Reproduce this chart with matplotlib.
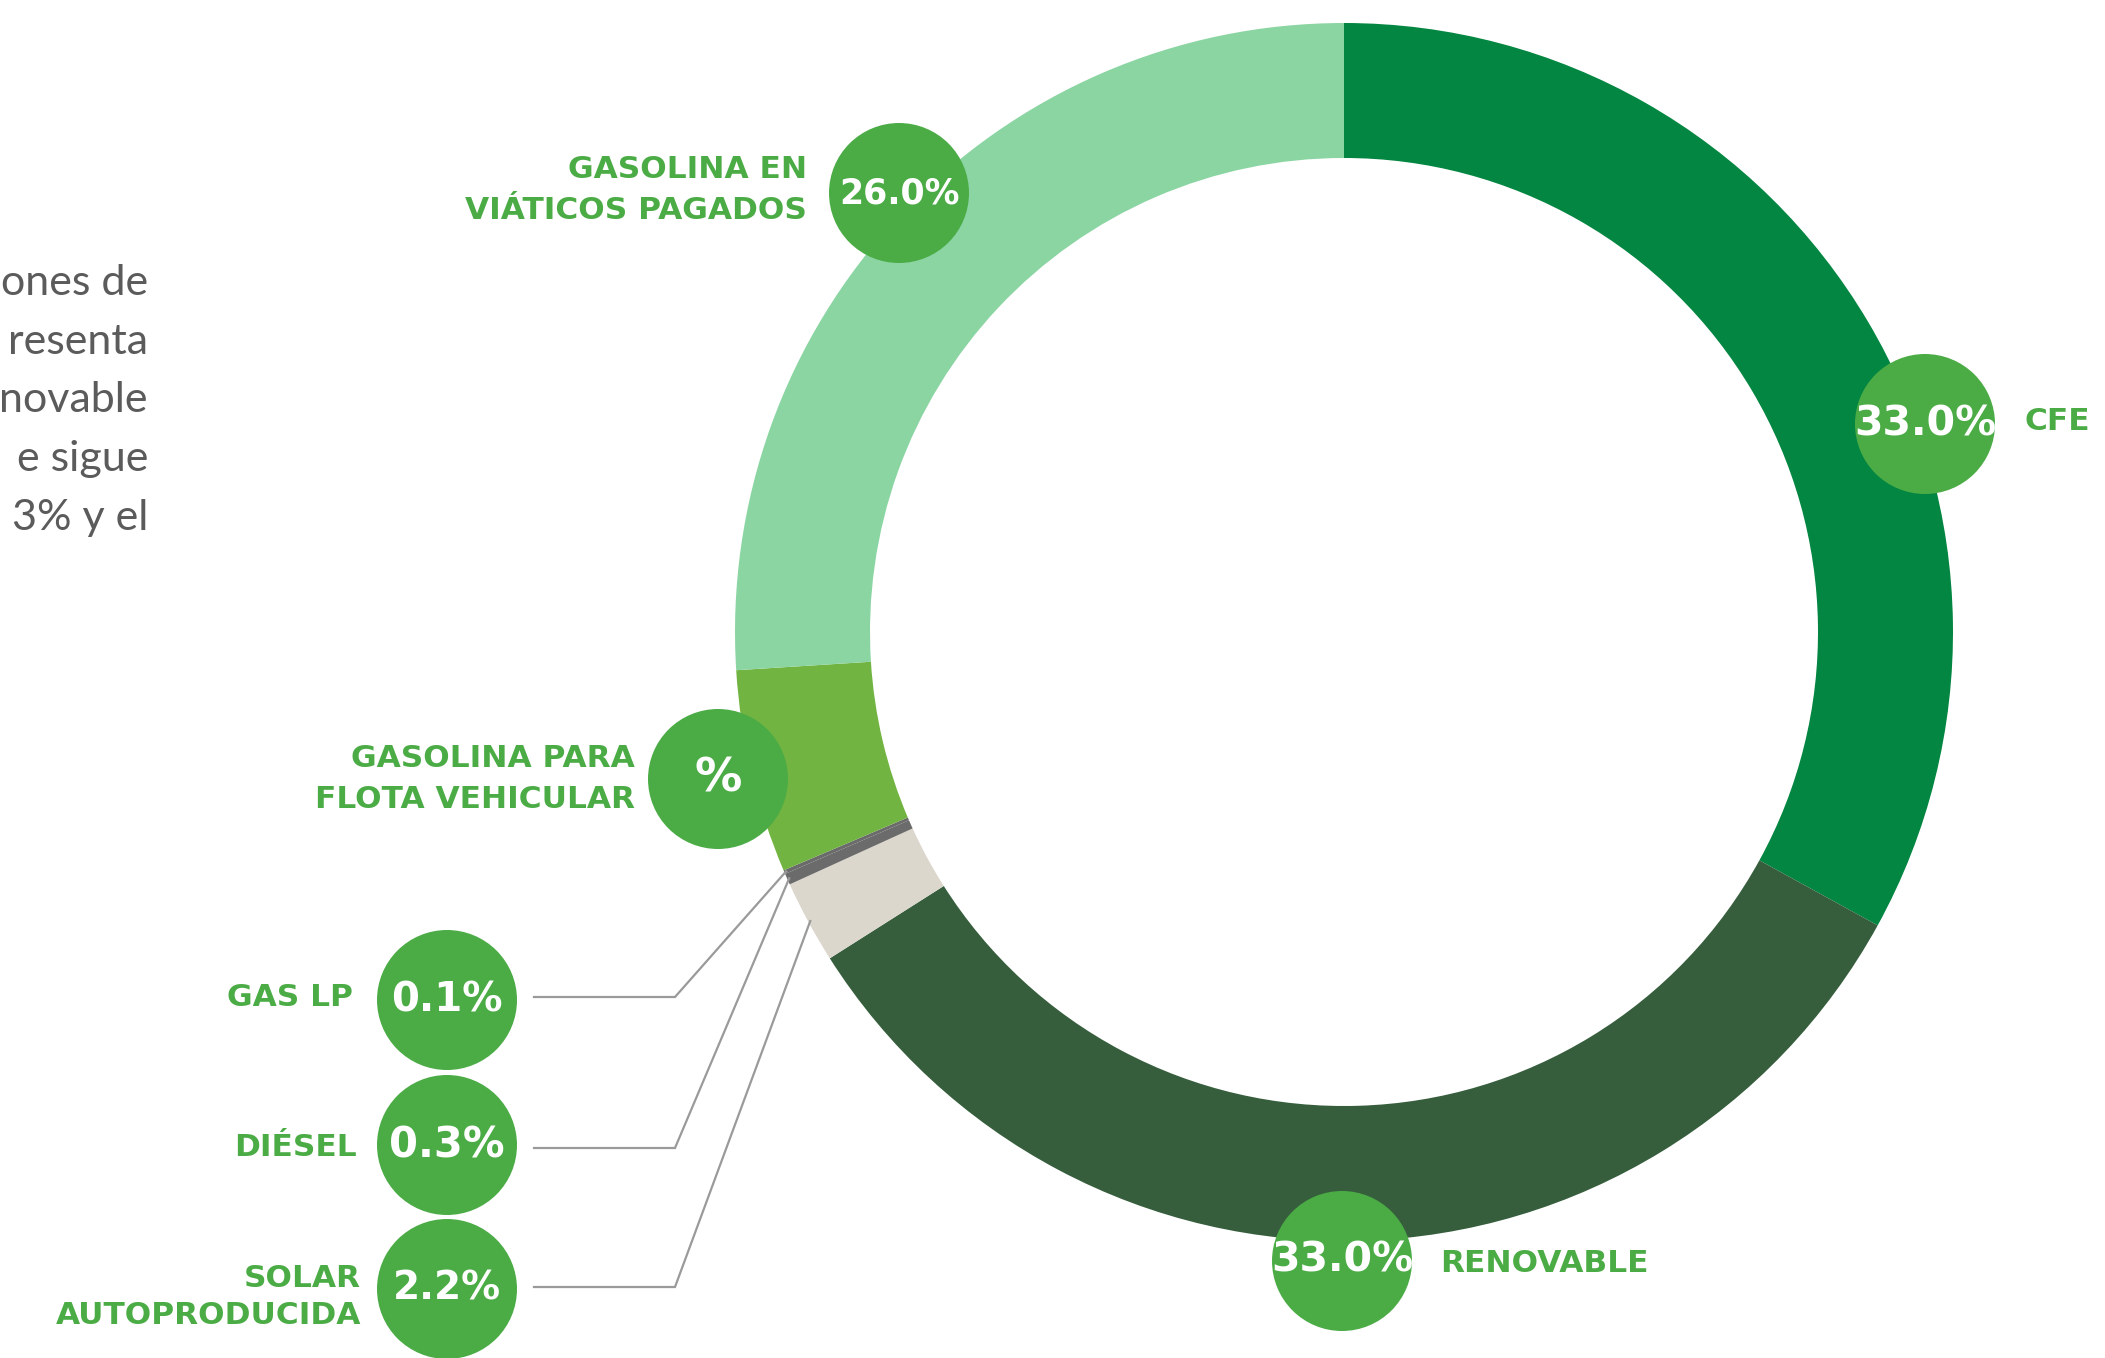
import matplotlib
matplotlib.use("Agg")
import matplotlib.pyplot as plt
import numpy as np
from matplotlib.patches import Circle

# ---------------- data ----------------
categories = ["CFE", "RENOVABLE", "SOLAR AUTOPRODUCIDA", "DIÉSEL", "GAS LP",
              "GASOLINA PARA FLOTA VEHICULAR", "GASOLINA EN VIÁTICOS PAGADOS"]
values = [33.0, 33.0, 2.2, 0.3, 0.1, 5.4, 26.0]
bubble_texts = ["33.0%", "33.0%", "2.2%", "0.3%", "0.1%", "%", "26.0%"]
colors = ["#038641", "#365E3C", "#DCD7CC", "#6B6B6B", "#6B6B6B", "#72B441", "#8BD5A3"]
paragraph_fragments = ["ones de", "resenta", "novable", "e sigue", "3% y el"]

W, H = 2105, 1358
BUBBLE = "#4BAC46"
LABEL = "#4BAC46"

fig = plt.figure(figsize=(W / 100, H / 100), dpi=100)
ax = fig.add_axes([0, 0, 1, 1])

cx, cy = 1344, 632
R_out, R_in = 609, 474

ax.pie(values, colors=colors, startangle=-90, counterclock=True,
       radius=R_out, center=(cx, cy),
       wedgeprops=dict(width=R_out - R_in, linewidth=0), frame=False)
ax.set_xlim(0, W)
ax.set_ylim(H, 0)
ax.set_aspect("equal")
ax.axis("off")

# wedge mid-angles (data coordinates, y down)
cum = np.cumsum([0] + values)
mid_deg = -90 + (cum[:-1] + np.array(values) / 2) * 3.6


def edge_point(i, r=R_out):
    a = np.deg2rad(mid_deg[i])
    return cx + r * np.cos(a), cy + r * np.sin(a)


# bubbles: (x, y, font size)
bubble_layout = {
    0: (1925, 424, 29.5),
    1: (1342, 1261, 29.5),
    2: (447, 1289, 28),
    3: (447, 1145, 30),
    4: (447, 1000, 29),
    5: (718, 779, 34),
    6: (899, 193, 25),
}
for i, (bx, by, fs) in bubble_layout.items():
    ax.add_patch(Circle((bx, by), 70, color=BUBBLE, zorder=5, linewidth=0))
    ax.text(bx, by, bubble_texts[i], color="white", fontsize=fs,
            fontweight="bold", family="DejaVu Sans", ha="center", va="center",
            zorder=6)

# category labels
lab_kw = dict(color=LABEL, fontsize=22.5, fontweight="bold", family="DejaVu Sans",
              zorder=6)
ax.text(2024, 421, "CFE", ha="left", va="center", **lab_kw)
ax.text(1440, 1263, "RENOVABLE", ha="left", va="center", **lab_kw)
ax.text(807, 190, "GASOLINA EN\nVIÁTICOS PAGADOS", ha="right", va="center",
        multialignment="right", linespacing=1.5, **lab_kw)
ax.text(635, 779, "GASOLINA PARA\nFLOTA VEHICULAR", ha="right", va="center",
        multialignment="right", linespacing=1.5, **lab_kw)
ax.text(353, 998, "GAS LP", ha="right", va="center", **lab_kw)
ax.text(357, 1147, "DIÉSEL", ha="right", va="center", **lab_kw)
ax.text(361, 1297, "SOLAR\nAUTOPRODUCIDA", ha="right", va="center",
        multialignment="right", linespacing=1.35, **lab_kw)

# leader lines for the small slices
leaders = {4: 997, 3: 1148, 2: 1287}
for i, ly in leaders.items():
    ex, ey = edge_point(i, R_out - 2)
    ax.plot([534, 675, ex], [ly, ly, ey], color="#9A9A9A", lw=1.6,
            solid_joinstyle="miter", zorder=4)

# paragraph fragments (cut by the figure edge)
for k, line in enumerate(paragraph_fragments):
    ax.text(148, 295 + k * 58.7, line, ha="right", va="baseline",
            fontsize=31, family="Lato", color="#5B5B5B")

fig.savefig("out.png", dpi=100)
